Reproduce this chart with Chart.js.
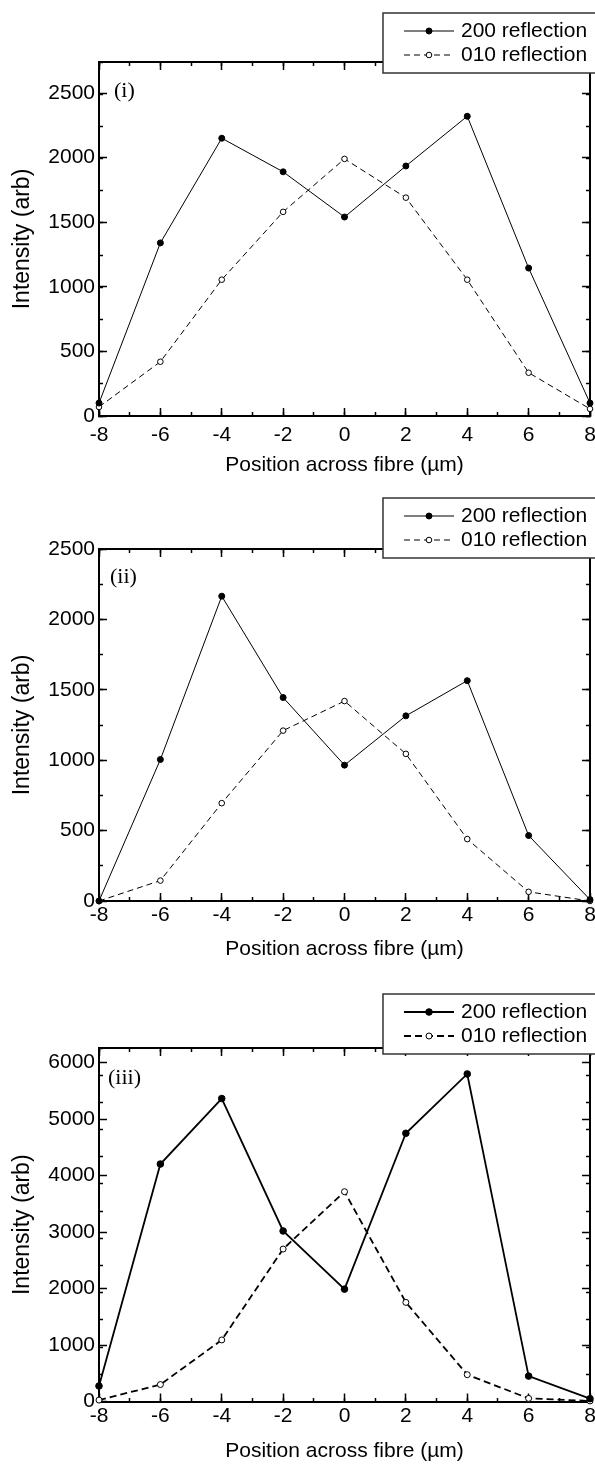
<!DOCTYPE html>
<html>
<head>
<meta charset="utf-8">
<title>Intensity across fibre</title>
<script src="https://cdn.jsdelivr.net/npm/chart.js@4.4.0/dist/chart.umd.min.js"></script>
<style>
  html, body { margin: 0; padding: 0; background: #fff; }
  body { width: 595px; height: 1465px; position: relative; overflow: hidden; }
  .panel { position: absolute; left: 0; width: 595px; }
  .panel canvas { display: block; }
</style>
</head>
<body>
<div class="panel" style="top:0;height:480px"><canvas id="panel-i" width="595" height="480"></canvas></div>
<div class="panel" style="top:480px;height:480px"><canvas id="panel-ii" width="595" height="480"></canvas></div>
<div class="panel" style="top:960px;height:505px"><canvas id="panel-iii" width="595" height="505"></canvas></div>
<script>
// ---- data ----
const positions = [-8, -6, -4, -2, 0, 2, 4, 6, 8];
const xTicks = [-8, -6, -4, -2, 0, 2, 4, 6, 8];
const seriesNames = ['200 reflection', '010 reflection'];

const refl200_i = [100, 1340, 2150, 1890, 1540, 1935, 2320, 1145, 100];
const refl010_i = [70, 420, 1055, 1580, 1990, 1690, 1055, 335, 55];

const refl200_ii = [0, 1005, 2165, 1445, 965, 1315, 1565, 465, 10];
const refl010_ii = [0, 145, 695, 1210, 1420, 1045, 440, 65, 0];

const refl200_iii = [275, 4205, 5365, 3020, 1990, 4750, 5800, 450, 50];
const refl010_iii = [25, 300, 1090, 2700, 3715, 1755, 475, 55, 10];

const yTicks_i = [0, 500, 1000, 1500, 2000, 2500];
const yTicks_ii = [0, 500, 1000, 1500, 2000, 2500];
const yTicks_iii = [0, 1000, 2000, 3000, 4000, 5000, 6000];

Chart.defaults.font.family = '"Liberation Sans", Arial, sans-serif';
Chart.defaults.color = '#000';

// legend box drawn on top of the frame, like the original figure
const boxLegend = {
    id: 'boxLegend',
    afterDraw(chart, args, opts) {
        const ctx = chart.ctx;
        ctx.save();
        ctx.fillStyle = '#fff';
        ctx.fillRect(opts.left, opts.top, opts.width, opts.height);
        ctx.strokeStyle = '#333';
        ctx.lineWidth = 1.5;
        ctx.strokeRect(opts.left, opts.top, opts.width, opts.height);

        chart.data.datasets.forEach((ds, i) => {
            const y = opts.top + opts.rows[i];
            const x0 = opts.left + opts.lineFrom;
            const x1 = opts.left + opts.lineTo;
            ctx.beginPath();
            ctx.setLineDash(ds.borderDash || []);
            ctx.lineWidth = ds.borderWidth;
            ctx.strokeStyle = ds.borderColor;
            ctx.moveTo(x0, y);
            ctx.lineTo(x1, y);
            ctx.stroke();
            ctx.setLineDash([]);

            ctx.beginPath();
            ctx.arc((x0 + x1) / 2, y, ds.pointRadius, 0, Math.PI * 2);
            ctx.fillStyle = ds.pointBackgroundColor;
            ctx.fill();
            ctx.lineWidth = ds.pointBorderWidth;
            ctx.strokeStyle = ds.pointBorderColor;
            ctx.stroke();

            ctx.fillStyle = '#000';
            ctx.font = opts.font;
            ctx.textBaseline = 'middle';
            ctx.textAlign = 'left';
            ctx.fillText(ds.label, opts.left + opts.textX, y);
        });
        ctx.restore();
    }
};

// (i), (ii), (iii) tag inside the plot area
const panelTag = {
    id: 'panelTag',
    afterDraw(chart, args, opts) {
        const {left, top} = chart.chartArea;
        const ctx = chart.ctx;
        ctx.save();
        ctx.font = '22px "Liberation Serif", "Times New Roman", serif';
        ctx.fillStyle = '#000';
        ctx.textBaseline = 'middle';
        ctx.fillText(opts.text, left + opts.dx, top + opts.dy);
        ctx.restore();
    }
};

function tickList(values) {
    return (scale) => { scale.ticks = values.map(v => ({ value: v })); };
}

// plain numbers, no thousands separator
const plain = (value) => String(value);

function makePanel(canvasId, spec, s200, s010, yTicks) {
    const ctx = document.getElementById(canvasId).getContext('2d');
    const frame = { display: true, color: '#000', width: 2 };
    const marks = (len) => ({ drawOnChartArea: false, drawTicks: true, tickLength: len, tickWidth: 1.5, tickColor: '#000' });
    const hidden = { display: false, includeBounds: false };

    const datasets = [
        {
            label: seriesNames[0],
            data: positions.map((x, k) => ({ x: x, y: s200[k] })),
            borderColor: '#000',
            backgroundColor: '#000',
            borderWidth: spec.line,
            pointRadius: spec.dot,
            pointBorderWidth: 1,
            pointBackgroundColor: '#000',
            pointBorderColor: '#000',
            tension: 0,
            clip: false
        },
        {
            label: seriesNames[1],
            data: positions.map((x, k) => ({ x: x, y: s010[k] })),
            borderColor: '#000',
            backgroundColor: '#fff',
            borderWidth: spec.line,
            borderDash: spec.dash,
            pointRadius: spec.ring,
            pointBorderWidth: 1,
            pointBackgroundColor: '#fff',
            pointBorderColor: '#000',
            tension: 0,
            clip: false
        }
    ];

    return new Chart(ctx, {
        type: 'line',
        data: { datasets: datasets },
        plugins: [boxLegend, panelTag],
        options: {
            responsive: false,
            animation: false,
            devicePixelRatio: 1,
            layout: { padding: { left: 0, right: 4, top: spec.top, bottom: 0 } },
            plugins: {
                legend: { display: false },
                title: { display: false },
                tooltip: { enabled: false },
                boxLegend: {
                    left: 383, top: spec.legendTop, width: 230, height: 60,
                    rows: [18, 42], lineFrom: 21, lineTo: 71, textX: 78,
                    font: '21px "Liberation Sans", Arial, sans-serif'
                },
                panelTag: { text: spec.tag, dx: spec.tagDx, dy: spec.tagDy }
            },
            scales: {
                x: {
                    type: 'linear', position: 'bottom', min: -8, max: 8,
                    afterBuildTicks: tickList(xTicks),
                    ticks: { padding: spec.xPad, autoSkip: false, maxRotation: 0, font: { size: 21 }, callback: plain },
                    grid: marks(-8),
                    border: frame,
                    title: {
                        display: true, text: 'Position across fibre (µm)',
                        font: { size: 21, lineHeight: 1 }, padding: { top: 0, bottom: spec.xTitlePad }
                    },
                    afterFit: (s) => { s.height = spec.h - spec.bottom; s.paddingLeft = 0; s.paddingRight = 0; }
                },
                y: {
                    type: 'linear', position: 'left', min: 0, max: spec.yMax,
                    afterBuildTicks: tickList(yTicks),
                    ticks: { padding: 12, font: { size: 21 }, callback: plain },
                    grid: marks(-8),
                    border: frame,
                    title: {
                        display: true, text: 'Intensity (arb)',
                        font: { size: 23, lineHeight: 1 }, padding: { top: 11, bottom: 0 }
                    },
                    afterFit: (s) => { s.width = 99; s.paddingTop = 0; s.paddingBottom = 0; }
                },
                x2: {
                    axis: 'x', type: 'linear', position: 'top', min: -8, max: 8,
                    afterBuildTicks: tickList(xTicks),
                    ticks: hidden, grid: marks(-8), border: frame,
                    afterFit: (s) => { s.height = 0; }
                },
                y2: {
                    axis: 'y', type: 'linear', position: 'right', min: 0, max: spec.yMax,
                    afterBuildTicks: tickList(yTicks),
                    ticks: hidden, grid: marks(-8), border: frame,
                    afterFit: (s) => { s.width = 0; }
                },
                // minor ticks, placed on the frame edges
                xMinorB: {
                    axis: 'x', type: 'linear', position: { y: 0 }, min: -8, max: 8,
                    ticks: { display: false, includeBounds: false, stepSize: 1 },
                    grid: marks(-4), border: { display: false }
                },
                xMinorT: {
                    axis: 'x', type: 'linear', position: { y: spec.yMax }, min: -8, max: 8,
                    ticks: { display: false, includeBounds: false, stepSize: 1 },
                    grid: marks(4), border: { display: false }
                },
                yMinorL: {
                    axis: 'y', type: 'linear', position: { x: -8 }, min: 0, max: spec.yMax,
                    ticks: { display: false, includeBounds: false, stepSize: spec.yMinor },
                    grid: marks(-4), border: { display: false }
                },
                yMinorR: {
                    axis: 'y', type: 'linear', position: { x: 8 }, min: 0, max: spec.yMax,
                    ticks: { display: false, includeBounds: false, stepSize: spec.yMinor },
                    grid: marks(4), border: { display: false }
                }
            }
        }
    });
}

makePanel('panel-i', {
    h: 480, top: 62, bottom: 416, yMax: 2740, yMinor: 250,
    legendTop: 13, tag: '(i)', tagDx: 15, tagDy: 29,
    line: 1, dot: 3, ring: 2.8, dash: [6, 4], xPad: 14.5, xTitlePad: 4.5
}, refl200_i, refl010_i, yTicks_i);

makePanel('panel-ii', {
    h: 480, top: 69, bottom: 421, yMax: 2500, yMinor: 250,
    legendTop: 18, tag: '(ii)', tagDx: 11, tagDy: 28,
    line: 1, dot: 3, ring: 2.8, dash: [6, 4], xPad: 10, xTitlePad: 0
}, refl200_ii, refl010_ii, yTicks_ii);

makePanel('panel-iii', {
    h: 505, top: 88, bottom: 441.5, yMax: 6260, yMinor: 500,
    legendTop: 34, tag: '(iii)', tagDx: 9, tagDy: 30,
    line: 1.8, dot: 3.3, ring: 3, dash: [7, 4], xPad: 10, xTitlePad: 3.5
}, refl200_iii, refl010_iii, yTicks_iii);
</script>
</body>
</html>
